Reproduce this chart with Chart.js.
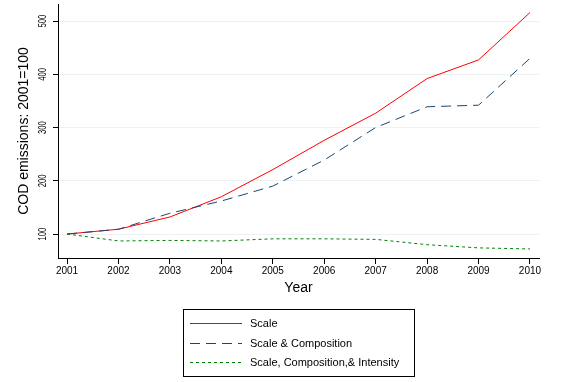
<!DOCTYPE html>
<html><head><meta charset="utf-8">
<script src="https://cdn.jsdelivr.net/npm/chart.js@4/dist/chart.umd.min.js"></script>
<style>html,body{margin:0;padding:0;background:#fff}canvas{display:block}</style>
</head><body>
<canvas id="c" width="577" height="382"></canvas>
<script>
const years = [2001,2002,2003,2004,2005,2006,2007,2008,2009,2010];
const scaleOnly = [100,109,132,170,221,276,327,392,427,516];
const scaleComp = [100,109,139,162,190,239,300,339,342,430];
const scaleCompInt = [100,87,88,87,91,91,90,80,74,72];
const yTicks = [100,200,300,400,500];
const seriesLabels = ['Scale','Scale & Composition','Scale, Composition,& Intensity'];
const yTitle = 'COD emissions: 2001=100';
const xTitle = 'Year';

const FONT = 'Liberation Sans, Arial, sans-serif';
const styles = [
  {color:'#ff0000', dash:[]},
  {color:'#1a476f', dash:[10,6]},
  {color:'#008000', dash:[3,3]}
];
const series = [scaleOnly, scaleComp, scaleCompInt];

const customDraw = {
  id:'customDraw',
  afterDraw(chart){
    const ctx = chart.ctx;
    const ys = chart.scales.y;
    // rotated y tick labels
    ctx.save();
    ctx.fillStyle = '#000';
    ctx.font = '11px ' + FONT;
    ctx.textAlign = 'center';
    ctx.textBaseline = 'middle';
    yTicks.forEach(v=>{
      const py = ys.getPixelForValue(v);
      ctx.save();
      ctx.translate(42.5, py);
      ctx.rotate(-Math.PI/2);
      ctx.scale(0.7, 1);
      ctx.fillText(String(v), 0, 0);
      ctx.restore();
    });
    ctx.restore();
    // legend
    ctx.save();
    ctx.strokeStyle = '#000';
    ctx.lineWidth = 1;
    ctx.strokeRect(183.5, 309.5, 231, 67);
    const rows = [323, 343, 362];
    seriesLabels.forEach((lab,i)=>{
      ctx.beginPath();
      ctx.setLineDash(styles[i].dash);
      ctx.strokeStyle = styles[i].color;
      ctx.moveTo(190, rows[i]+0.5);
      ctx.lineTo(242, rows[i]+0.5);
      ctx.stroke();
      ctx.setLineDash([]);
      ctx.fillStyle = '#000';
      ctx.font = '11px ' + FONT;
      ctx.textAlign = 'left';
      ctx.textBaseline = 'middle';
      ctx.fillText(lab, 250, rows[i]+1);
    });
    ctx.restore();
  }
};

new Chart(document.getElementById('c'), {
  type:'line',
  data:{
    datasets: series.map((s,i)=>({
      label: seriesLabels[i],
      data: years.map((yr,j)=>({x:yr, y:s[j]})),
      borderColor: styles[i].color,
      borderDash: styles[i].dash,
      borderWidth: 1,
      pointRadius: 0,
      tension: 0,
      fill: false,
      order: 3 - i
    }))
  },
  options:{
    responsive:false,
    animation:false,
    layout:{padding:{left:0,right:38,top:4,bottom:0}},
    plugins:{legend:{display:false}, tooltip:{enabled:false}},
    scales:{
      x:{
        type:'linear', min:2000.825, max:2010.175,
        afterBuildTicks:s=>{ s.ticks = years.map(v=>({value:v})); },
        afterFit:s=>{ s.height = 124; },
        grid:{drawOnChartArea:false, drawTicks:true, tickLength:6, tickColor:'#000'},
        border:{color:'#000', width:1},
        ticks:{color:'#000', font:{family:FONT, size:10}, padding:1, maxRotation:0, autoSkip:false, callback:v=>String(v)},
        title:{display:true, text:xTitle, color:'#000', font:{family:FONT, size:14}, padding:{top:0,bottom:85.6}}
      },
      y:{
        min:55, max:532,
        afterBuildTicks:s=>{ s.ticks = yTicks.map(v=>({value:v})); },
        afterFit:s=>{ s.width = 58; },
        grid:{color:'#eaf2f3', lineWidth:1, drawTicks:true, tickLength:5, tickColor:'#000'},
        border:{color:'#000', width:1},
        ticks:{display:false},
        title:{display:true, text:yTitle, color:'#000', font:{family:FONT, size:14}, padding:{top:15.6,bottom:0}}
      }
    }
  },
  plugins:[customDraw]
});
</script>
</body></html>
